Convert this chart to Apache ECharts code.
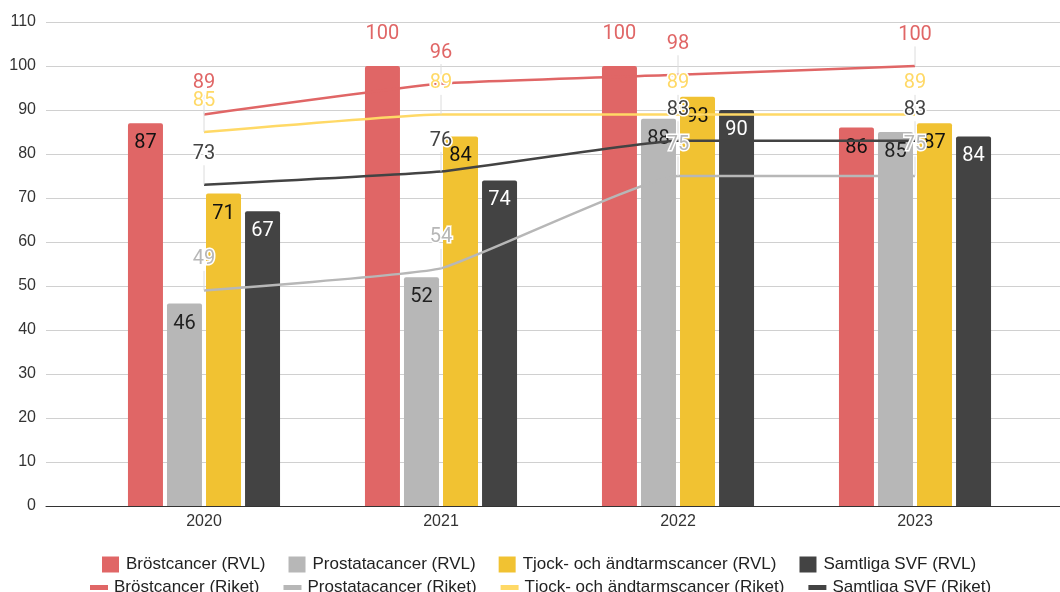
<!DOCTYPE html>
<html><head><meta charset="utf-8">
<script src="https://cdn.jsdelivr.net/npm/echarts@6/dist/echarts.min.js"></script>
<style>html,body{margin:0;padding:0;background:#fff}#c{width:1060px;height:592px}</style>
</head><body><div id="c"></div>
<script>
const categories = ['2020', '2021', '2022', '2023'];
const yTicks = [0, 10, 20, 30, 40, 50, 60, 70, 80, 90, 100, 110];
const barNames = ['Bröstcancer (RVL)', 'Prostatacancer (RVL)', 'Tjock- och ändtarmscancer (RVL)', 'Samtliga SVF (RVL)'];
const lineNames = ['Bröstcancer (Riket)', 'Prostatacancer (Riket)', 'Tjock- och ändtarmscancer (Riket)', 'Samtliga SVF (Riket)'];
const brostRVL = [87, 100, 100, 86];
const prostataRVL = [46, 52, 88, 85];
const tjockRVL = [71, 84, 93, 87];
const samtligaRVL = [67, 74, 90, 84];
const brostRiket = [89, 96, 98, 100];
const prostataRiket = [49, 54, 75, 75];
const tjockRiket = [85, 89, 89, 89];
const samtligaRiket = [73, 76, 83, 83];

const barColors = ['#e06666', '#b7b7b7', '#f1c232', '#434343'];
const barLabelColors = ['#111', '#222', '#111', '#fff'];
const lineColors = ['#e06666', '#b7b7b7', '#ffd966', '#434343'];
const barData = [brostRVL, prostataRVL, tjockRVL, samtligaRVL];
const lineData = [brostRiket, prostataRiket, tjockRiket, samtligaRiket];
const font = 'Roboto, "Liberation Sans", sans-serif';
const axisFont = '"Liberation Sans", Arial, sans-serif';

const series = [];
barData.forEach((vals, i) => {
  series.push({
    name: barNames[i], type: 'bar', xAxisIndex: 1, yAxisIndex: 1,
    barWidth: 35, barGap: '11.5%', z: 2,
    itemStyle: { color: barColors[i], borderRadius: [2, 2, 0, 0] },
    label: { show: true, position: 'insideTop', distance: 10, fontSize: 20, fontFamily: font, color: barLabelColors[i] },
    data: vals.map(v => v >= 100 ? { value: v, label: { position: 'top', distance: 22, color: barColors[i] } } : v)
  });
});
lineData.forEach((vals, i) => {
  series.push({
    name: lineNames[i], type: 'line', xAxisIndex: 1, yAxisIndex: 1,
    smooth: 0.12, showSymbol: true, symbol: 'circle', symbolSize: 0.1, z: 5,
    lineStyle: { color: lineColors[i], width: 2.5 },
    itemStyle: { color: lineColors[i] },
    label: { show: true, position: 'top', distance: 0, fontSize: 20, fontFamily: font, color: lineColors[i], textBorderColor: '#fff', textBorderWidth: 3 },
    labelLayout: { dy: -21 },
    labelLine: { show: true, lineStyle: { color: '#dcdcdc', width: 1 } },
    data: vals
  });
});

const chart = echarts.init(document.getElementById('c'));
chart.setOption({
  animation: false,
  backgroundColor: '#fff',
  grid: [
    { left: 46, right: 0, top: 22, bottom: 86 },
    { left: 85.5, right: 26.5, top: 22, bottom: 86 }
  ],
  legend: [
    { data: barNames, top: 551, left: 97, icon: 'rect', itemWidth: 17, itemHeight: 16, itemGap: 23,
      textStyle: { fontSize: 17, color: '#222', fontFamily: axisFont, padding: [0, 0, 0, 2] } },
    { data: lineNames, top: 574, left: 85, icon: 'rect', itemWidth: 18, itemHeight: 5, itemGap: 24,
      textStyle: { fontSize: 17, color: '#222', fontFamily: axisFont, padding: [0, 0, 0, 1] } }
  ],
  xAxis: [
    { type: 'value', gridIndex: 0, min: 0, max: 1, axisLine: { show: true, onZero: false, lineStyle: { color: '#333', width: 1 } },
      axisTick: { show: false }, axisLabel: { show: false }, splitLine: { show: false } },
    { type: 'category', gridIndex: 1, data: categories, axisLine: { show: false }, axisTick: { show: false },
      axisLabel: { fontSize: 16, color: '#333', margin: 8, fontFamily: axisFont } }
  ],
  yAxis: [
    { type: 'value', gridIndex: 0, min: yTicks[0], max: yTicks[yTicks.length - 1], interval: yTicks[1] - yTicks[0],
      axisLine: { show: false }, axisTick: { show: false },
      axisLabel: { fontSize: 16, color: '#333', margin: 10, fontFamily: axisFont },
      splitLine: { lineStyle: { color: '#d0d0d0', width: 1 } } },
    { type: 'value', gridIndex: 1, min: yTicks[0], max: yTicks[yTicks.length - 1], interval: yTicks[1] - yTicks[0], show: false }
  ],
  series: series
});
</script></body></html>
